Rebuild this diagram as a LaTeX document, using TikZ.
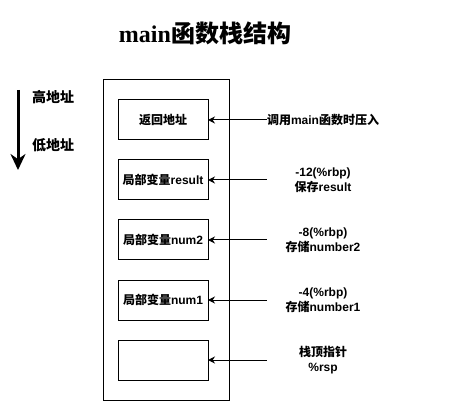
\documentclass[tikz,border=0pt]{standalone}
\usepackage{fontspec}
\setmainfont{Liberation Sans}
\newfontfamily\cjk{Noto Sans CJK SC}
\newfontfamily\serifbf{Liberation Serif}
\newcommand{\zh}[1]{{\cjk #1}}
\usetikzlibrary{positioning,arrows.meta}

\begin{document}
\begin{tikzpicture}[x=1pt, y=-1pt,
    nodes = {align = center, font=\bfseries\fontsize{12}{15}\selectfont},
    slot/.style = {draw, line width=1pt, minimum width=90pt, minimum height=40pt, inner sep=0pt, outer sep=0pt},
    note/.style = {text width=112pt, inner sep=0pt, text centered},
    push/.style = {->, line width=1pt, >={Stealth[length=7pt,width=7pt]}}]
    \useasboundingbox (0,0) rectangle (449,411);
    \node (title) at (205,33) {\fontsize{24}{28}\selectfont{\serifbf main}\zh{函数栈结构}};
    % address direction
    \coordinate (top) at (18,90);
    \coordinate (bottom) at (18,170);
    \draw[line width=3pt, -{Stealth[length=16pt,width=15pt]}] (top) -- (bottom);
    \node (high) at (53,97) {\fontsize{14}{16}\selectfont\zh{高地址}};
    \node (low) at (53,145) {\fontsize{14}{16}\selectfont\zh{低地址}};
    % stack frame
    \node (stack) [draw, line width=1pt, minimum width=126pt, minimum height=320pt] at (166,240) {};
    \node (ret) [slot] at (163,120) {\zh{返回地址}};
    \node (result) [slot, below = 20pt of ret] {\zh{局部变量}result};
    \node (num2) [slot, below = 20pt of result] {\zh{局部变量}num2};
    \node (num1) [slot, below = 20pt of num2] {\zh{局部变量}num1};
    \node (sp) [slot, below = 20pt of num1] {};
    % notes
    \node (callnote) [note] at (323,120) {\zh{调用}main\zh{函数时压入}};
    \node (resnote) [note] at (323,180) {-12(\%rbp)\\\zh{保存}result};
    \node (n2note) [note] at (323,240) {-8(\%rbp)\\\zh{存储}number2};
    \node (n1note) [note] at (323,300) {-4(\%rbp)\\\zh{存储}number1};
    \node (spnote) [note] at (323,360) {\zh{栈顶指针}\\\%rsp};
    \draw[push] (callnote.west) -- (ret.east);
    \draw[push] (resnote.west) -- (result.east);
    \draw[push] (n2note.west) -- (num2.east);
    \draw[push] (n1note.west) -- (num1.east);
    \draw[push] (spnote.west) -- (sp.east);
\end{tikzpicture}
\end{document}
